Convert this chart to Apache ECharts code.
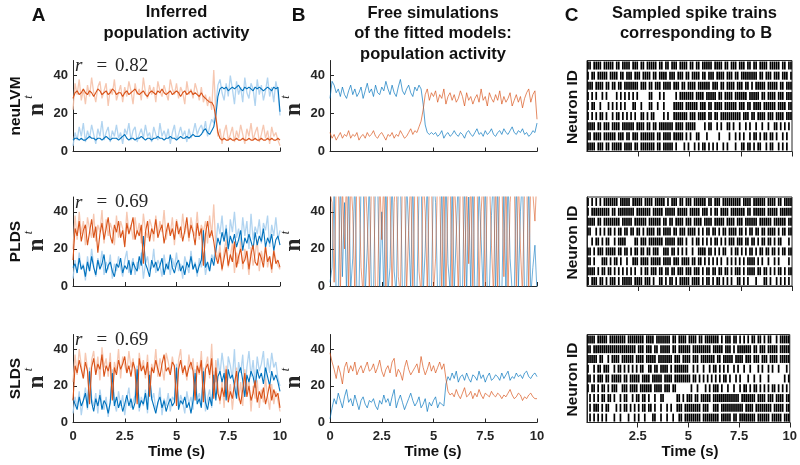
<!DOCTYPE html>
<html><head><meta charset="utf-8">
<script src="https://cdn.jsdelivr.net/npm/echarts@6/dist/echarts.min.js"></script>
<style>html,body{margin:0;padding:0;background:#fff}#c{width:800px;height:465px}</style>
</head><body><div id="c"></div><script>
// ---------- DATA ----------
const time = [0,0.1,0.2,0.3,0.4,0.5,0.6,0.7,0.8,0.9,1,1.1,1.2,1.3,1.4,1.5,1.6,1.7,1.8,1.9,2,2.1,2.2,2.3,2.4,2.5,2.6,2.7,2.8,2.9,3,3.1,3.2,3.3,3.4,3.5,3.6,3.7,3.8,3.9,4,4.1,4.2,4.3,4.4,4.5,4.6,4.7,4.8,4.9,5,5.1,5.2,5.3,5.4,5.5,5.6,5.7,5.8,5.9,6,6.1,6.2,6.3,6.4,6.5,6.6,6.7,6.8,6.9,7,7.1,7.2,7.3,7.4,7.5,7.6,7.7,7.8,7.9,8,8.1,8.2,8.3,8.4,8.5,8.6,8.7,8.8,8.9,9,9.1,9.2,9.3,9.4,9.5,9.6,9.7,9.8,9.9,10];
const xTicks = [0,2.5,5,7.5,10];
const rasterTicks = [2.5,5,7.5,10];
const yTicks = [0,20,40];
const rowNames = ['neuLVM','PLDS','SLDS'];
const rValues = ['0.82','0.69','0.69'];

// Column A: inferred activity (dark = estimate, light = reference)
const neuOrange = [28,31,32,30,31,33,31,30,32,31, 29,31,33,32,30,31,32,30,31,33, 32,30,31,31,29,31,32,30,31,32, 33,31,30,31,32,30,29,31,32,31, 30,32,31,33,31,30,31,32,30,31, 32,31,29,31,32,30,31,32,30,31, 30,29,31,29,28,27,26,26,24,18, 10,7,6,7,6,6,7,6,6,7, 6,6,7,6,6,7,6,6,7,6, 6,7,6,6,7,6,7,6,6,7, 6];
const neuBlue = [6,7,7,6,7,6,6,7,8,7, 7,6,7,7,6,7,8,7,6,7, 7,7,6,7,8,9,7,6,7,7, 6,7,7,8,7,6,7,7,6,7, 7,8,7,7,6,7,7,8,7,7, 6,7,8,7,7,8,7,8,9,8, 8,8,9,11,12,10,9,11,13,19, 29,33,34,33,34,32,33,34,33,34, 35,33,32,34,33,34,33,32,34,33, 34,33,32,33,34,33,32,34,33,34, 21];
const neuOrangeRef = [22,36,30,38,27,33,25,35,29,39, 31,26,34,37,28,32,36,24,33,30, 38,27,31,35,26,34,29,37,32,25, 36,30,33,27,39,31,28,35,30,34, 26,37,32,29,35,31,27,38,33,30, 36,28,34,31,25,37,30,33,28,36, 32,27,34,26,30,24,29,22,43,20, 8,12,4,10,14,6,9,13,5,11, 7,14,9,4,12,8,15,6,10,13, 5,9,14,7,11,4,13,8,10,6, 3];
const neuBlueRef = [3,10,6,13,8,15,5,11,7,14, 9,4,12,8,16,6,10,13,5,11, 8,14,7,10,4,12,9,15,6,11, 13,5,9,12,7,14,8,10,5,13, 9,6,15,8,11,7,12,4,10,14, 6,9,13,8,11,5,12,7,10,15, 9,12,14,10,16,8,13,17,15,24, 35,38,31,27,36,29,40,33,25,37, 30,34,26,39,31,28,36,33,24,38, 30,35,27,32,39,29,34,26,37,31, 19];

const pldsOrange = [14,31,27,35,24,30,33,22,29,36, 26,32,18,28,34,25,31,37,27,23, 33,29,35,26,30,21,34,28,32,37, 25,30,27,33,12,29,35,24,31,28, 36,26,30,33,23,29,34,27,31,25, 35,28,32,24,30,37,26,33,29,22, 34,27,31,11,28,35,26,30,24,16, 12,18,9,15,21,11,17,13,24,10, 16,20,12,14,19,9,17,22,13,11, 18,15,10,21,13,16,9,19,12,14, 10];
const pldsBlue = [10,12,7,15,9,11,5,13,8,16, 10,6,14,9,12,17,7,11,13,8, 5,12,10,15,7,11,9,14,6,13, 10,8,16,11,27,12,9,5,14,10, 13,8,11,15,6,12,9,17,10,7, 12,14,8,11,6,13,10,16,9,12, 7,11,14,30,10,13,8,15,11,19, 26,22,29,24,31,20,27,23,28,21, 25,30,19,26,23,28,24,20,29,22, 27,24,31,21,26,23,28,19,25,27, 22];
const pldsOrangeRef = [20,38,25,40,28,35,22,37,31,26, 39,24,33,29,41,23,36,27,34,30, 22,38,26,35,31,24,40,29,33,25, 37,28,34,23,39,30,26,36,32,24, 38,27,35,29,41,25,33,28,37,22, 36,31,26,39,28,34,24,37,30,27, 40,25,33,29,35,23,38,27,44,21, 14,22,8,19,25,10,16,23,7,18, 12,24,9,20,15,6,21,11,17,25, 8,19,13,22,10,16,7,20,14,11, 9];
const pldsBlueRef = [4,14,7,18,9,12,3,16,8,20, 11,5,15,10,19,6,13,9,17,4, 12,8,16,10,5,14,19,7,11,15, 6,13,9,18,4,12,16,8,10,20, 7,14,11,5,17,9,13,6,15,10, 18,8,12,4,16,11,7,19,9,13, 5,15,10,18,6,12,8,17,14,22, 34,28,38,24,33,19,36,29,40,26, 31,22,37,27,35,20,39,25,32,28, 36,23,34,30,38,21,33,27,37,25, 30];

const sldsOrange = [12,31,27,34,29,24,33,28,10,30, 35,26,32,29,37,25,31,28,33,12, 30,26,34,29,32,36,27,31,25,33, 29,10,35,28,31,26,33,14,30,27, 34,29,25,32,37,28,30,26,33,31, 9,29,34,27,31,25,30,33,28,12, 31,27,34,11,29,32,26,35,13,30, 16,12,19,14,29,11,17,13,21,28, 15,10,18,27,14,20,12,16,23,11, 17,13,19,10,15,21,12,18,14,16, 8];
const sldsBlue = [13,10,7,14,9,12,16,8,28,11, 6,13,9,15,7,12,10,5,11,27, 9,14,8,12,6,10,15,9,13,7, 11,29,8,12,10,16,7,26,13,9, 5,11,14,8,12,6,10,13,9,11, 30,7,12,10,14,8,11,5,12,27, 10,13,8,28,11,7,14,9,26,12, 25,28,22,27,12,29,24,26,20,13, 27,30,23,14,26,22,28,25,19,29, 24,27,21,30,25,20,28,23,26,22, 17];
const sldsOrangeRef = [22,37,26,40,31,24,38,29,14,34, 39,27,36,23,41,30,35,25,38,16, 33,28,40,24,36,31,27,39,30,35, 26,15,38,29,34,24,37,18,32,28, 40,25,35,30,23,38,33,27,36,29, 14,34,40,26,31,23,37,29,35,17, 33,26,39,15,30,36,24,43,18,34, 20,10,23,8,31,14,21,7,19,30, 12,22,9,29,17,24,6,20,13,23, 8,18,11,24,14,7,21,10,17,12, 6];
const sldsBlueRef = [5,14,8,17,4,12,19,7,30,13, 9,16,5,18,10,7,14,3,12,29, 11,6,17,9,15,4,13,19,8,11, 15,31,6,14,9,18,5,28,12,16, 7,10,19,4,13,9,16,6,14,12, 32,8,15,11,5,17,10,14,7,29, 12,16,9,30,6,13,18,8,28,22, 35,26,38,29,14,36,31,24,40,15, 33,27,37,16,30,39,25,34,21,36, 28,32,39,23,35,27,38,30,33,24, 20];

// Column B: free simulations
const simNeuBlue = [28,37,35,31,33,29,34,30,28,32, 35,30,33,29,31,34,28,32,36,31, 33,29,35,31,30,34,32,37,33,30, 35,31,29,34,38,32,30,33,35,31, 29,34,32,35,33,25,14,10,9,10, 9,10,8,9,11,7,9,10,8,9, 11,9,8,10,9,7,10,11,9,8, 10,12,9,10,8,11,9,10,12,9, 8,10,11,9,12,10,9,11,13,10, 9,11,10,12,9,10,8,9,11,10, 15];
const simNeuOrange = [10,7,9,6,8,10,7,9,8,11, 7,9,8,10,6,8,9,7,10,8, 9,11,8,7,9,10,8,6,9,8, 10,7,9,8,11,9,7,8,10,12, 9,11,10,13,16,22,30,33,27,31, 29,32,26,30,28,33,25,29,31,27, 30,26,28,32,29,24,31,27,29,25, 28,30,26,33,27,29,24,31,28,26, 30,27,32,25,29,26,28,31,24,27, 30,26,29,23,28,31,33,26,30,32, 17];
const simPldsOrange = [50,45,2,55,60,-5,55,20,60,-3, 58,40,-5,60,55,10,-5,60,35,-2, 55,60,-5,-5,60,25,58,-4,60,50, -5,45,60,5,-5,60,58,-3,30,60, -5,55,60,8,-5,60,40,-2,58,60, -5,15,60,55,-5,60,-4,48,60,-5, 60,33,-5,58,60,-2,55,12,60,-5, 60,58,-3,40,60,-5,55,60,22,-5, 60,-4,58,60,5,60,-5,45,60,58, -3,60,20,-5,55,60,-2,60,50,35, 60];
const simPldsBlue = [2,10,50,-5,-3,60,5,45,-5,58, -2,15,60,-5,-4,55,60,-5,20,58, -3,-5,60,58,-2,40,-5,60,-3,10, 60,8,-5,55,60,-4,-5,58,30,-2, 60,-5,-3,50,60,-5,20,58,-4,-2, 60,45,-5,-3,58,-5,60,12,-2,55, -4,28,60,-5,-3,58,-5,48,-2,60, -5,-3,55,25,-4,60,-5,-2,38,60, -5,58,-3,-4,50,-5,60,15,-3,-5, 58,-2,40,60,-5,-3,58,-5,10,22, -4];
const simSldsOrange = [38,33,29,24,31,27,21,30,33,27, 31,28,33,26,29,31,27,30,33,28, 29,32,27,30,34,28,25,29,31,27, 33,35,25,29,27,23,30,34,29,26, 28,30,32,27,36,30,26,29,33,28, 31,27,30,33,29,32,24,17,15,16, 14,18,15,13,16,19,14,15,17,13, 16,14,18,15,13,16,15,14,17,15, 14,16,15,13,15,14,16,18,15,13, 14,16,15,12,14,13,15,16,14,13, 13];
const simSldsBlue = [2,8,13,10,16,12,8,14,18,11, 13,9,15,11,7,12,14,10,8,12, 11,13,9,7,12,10,15,11,13,9, 14,18,8,12,15,11,7,10,13,16, 12,9,11,14,8,10,13,6,11,9, 12,14,8,11,10,9,21,25,23,27, 24,28,22,25,26,23,27,24,22,26, 25,23,28,24,26,22,25,27,23,24, 26,25,23,27,24,26,28,23,25,24, 27,25,26,24,27,28,25,24,26,27, 25];

// Column C: binned spike trains (0.1 s bins, 1 = spike), neuron 1..9 from top
const spikesNeu = [
"1101111011 1110110111 1011101101 1111011011 0111011110 1101101111 1011110110 1110111011 0110111101 1111011011",
"1011011111 0111101101 1101110111 1011011110 1110111011 0111101101 1101111011 1011011111 1110110111 0111011101",
"1110111101 1011011011 1111101110 1101110111 1011101101 1110111111 0111011011 1101110110 1011111011 1110110111",
"1010100101 0000101010 1010100000 1100010100 0001011111 1101111011 1110110111 1011111101 1111011011 1101110111",
"1011001000 1010101010 0011001000 1100100100 0011111011 1111011101 1011110111 1110111011 0111101111 1101111011",
"1010101101 0010110101 0101001101 0110000101 0011111110 1110111101 1011011111 1111101110 1101111011 1011110111",
"1111011011 1011110111 1110111101 1011011111 1101111011 1110000101 1001010011 0100100101 0010010010 0110101010",
"1101111011 1111011101 1011101111 1110110111 1011111010 1001100010 0000100001 0010101001 0110101101 1010010100",
"1111011101 1011111011 1101101111 1110110111 1101000101 0010101101 0101001010 0010011011 0101100101 1001010100"];
const spikesPlds = [
"1010101011 1111101111 1011111011 1101111101 0111011011 1011111101 1011101111 1111101111 0111111011 1101101111",
"1011111111 1011011111 1110111111 1011111011 1110111110 1111101110 1011011110 1111111011 0111111011 1110111111",
"1111011011 1111110111 1101111110 1111110110 1101111011 1011110111 1011111011 1101110111 1110111111 0111111011",
"1100101010 1101011011 0110110101 1110110111 1011011101 1110101011 0110101101 1110110101 1011011011 1101011011",
"0010110101 1001011110 0001101110 1111111011 1110111010 0101101010 1011010101 1101110110 1101011011 0101100010",
"1101011101 1111011011 0101101101 1011100111 0110101010 0100111101 1010101100 1011010101 1010110110 1101011011",
"1101000111 0101101001 0011101111 0111110111 1011101111 0110110101 0101010010 1010101011 1101010010 0101000010",
"1111010110 1101010101 0101001011 0111011011 0110111011 1011101011 0110110110 1011101011 1101101101 0101101011",
"1011101101 0111010111 1101111011 1010011010 1101011111 0111101011 0101101010 1001101010 0010001101 0010101010"];
const spikesSlds = [
"1111011111 0111111110 1111111101 1110111111 1011011110 1111011011 1111101011 1011010101 0110110101 1001011111",
"1101111111 1111111111 1111011101 1101101111 1011011111 1011111111 1011111011 1010111111 1011011101 1111011111",
"1111101100 1011110111 1110111101 1111011111 1101110111 1011101111 1110110111 1101111011 1011101110 1111011111",
"1001011011 1001011010 1010101100 1101101111 0101111111 0010100100 1011010101 0010100100 1000101001 0100100010",
"1101011101 1011111011 0111110111 1011111011 1101111111 1011010101 0101010110 1001010001 0010010001 0000000101",
"1011010110 1011100111 0111101111 1101111011 1011000000 0100100010 1011101001 0010010110 1011010101 0110101010",
"0101010110 1101001011 0010110110 1001001100 0000110101 1101101111 1011111111 1111101111 1110111101 1101111011",
"0101110101 1000101011 0101010110 1101001001 0100111011 1111110111 0011101111 1111111011 1101111111 1011111011",
"0101010101 0001001000 1001010010 0011001001 0010011011 1111110111 1111101111 1011011111 1110111111 0111110111"];

// ---------- LAYOUT / STYLE ----------
const SANS = '"Liberation Sans", Arial, Helvetica, sans-serif';
const SERIF = '"Liberation Serif", "Times New Roman", serif';
const INK = '#262626';
const ORANGE = '#D95319', BLUE = '#0072BD';
const ORANGE_L = '#F5C1A8', BLUE_L = '#A8CFEE';
const colLeft = [73, 330, 587], colWidth = [207, 207, 205];
const rowTop = [60.5, 197, 334.5], rowHeight = [91, 89, 88];

const grids = [], xAxes = [], yAxes = [], series = [];
for (let c = 0; c < 3; c++) for (let r = 0; r < 3; r++) {
  const gi = c * 3 + r;
  const isRaster = c === 2;
  grids.push({left: colLeft[c], top: rowTop[r], width: colWidth[c], height: rowHeight[r], containLabel: false,
    show: isRaster, borderColor: INK, borderWidth: 1, backgroundColor: 'transparent'});
  const tv = isRaster ? rasterTicks : xTicks;
  xAxes.push({gridIndex: gi, type: 'value', min: 0, max: 10, interval: 2.5,
    axisLine: {show: true, onZero: false, lineStyle: {color: INK, width: 1}},
    axisTick: {show: true, inside: !isRaster, length: isRaster ? 5 : 4, lineStyle: {color: INK, width: 1}, customValues: tv},
    axisLabel: {show: r === 2, customValues: tv, margin: 7, color: INK, fontFamily: SANS, fontWeight: 'bold', fontSize: 13},
    splitLine: {show: false}});
  if (isRaster) {
    yAxes.push({gridIndex: gi, type: 'value', min: 0.5, max: 9.5, inverse: true,
      axisLine: {show: true, onZero: false, lineStyle: {color: INK, width: 1}}, axisTick: {show: false}, axisLabel: {show: false}, splitLine: {show: false}});
  } else {
    yAxes.push({gridIndex: gi, type: 'value', min: 0, max: 48, interval: 20,
      axisLine: {show: true, onZero: false, lineStyle: {color: INK, width: 1}},
      axisTick: {show: true, inside: true, length: 4, lineStyle: {color: INK, width: 1}, customValues: yTicks},
      axisLabel: {show: true, customValues: yTicks, margin: 5, color: INK, fontFamily: SANS, fontWeight: 'bold', fontSize: 13},
      splitLine: {show: false}});
  }
}

function line(gi, vals, color, width, opacity, z) {
  series.push({type: 'line', xAxisIndex: gi, yAxisIndex: gi, data: time.map((t, i) => [t, vals[i]]),
    showSymbol: false, symbol: 'none', silent: true, clip: true, z: z,
    lineStyle: {color: color, width: width, opacity: opacity}});
}
const inferred = [
  [neuBlueRef, neuOrangeRef, neuBlue, neuOrange],
  [pldsBlueRef, pldsOrangeRef, pldsBlue, pldsOrange],
  [sldsBlueRef, sldsOrangeRef, sldsBlue, sldsOrange]];
inferred.forEach((s, r) => {
  line(r, s[0], BLUE_L, 1.3, 0.9, 1);
  line(r, s[1], ORANGE_L, 1.3, 0.9, 2);
  line(r, s[2], BLUE, 1.1, 1, 3);
  line(r, s[3], ORANGE, 1.1, 1, 4);
});
const sims = [[simNeuBlue, simNeuOrange], [simPldsBlue, simPldsOrange], [simSldsBlue, simSldsOrange]];
sims.forEach((s, r) => {
  line(3 + r, s[0], BLUE, 0.8, r === 1 ? 0.7 : 0.85, 1);
  line(3 + r, s[1], ORANGE, 0.8, r === 1 ? 0.7 : 0.85, 2);
});
function spikePoints(rows) {
  const pts = [];
  rows.forEach((s, n) => {
    const b = s.replace(/ /g, '');
    for (let k = 0; k < b.length; k++) if (b[k] === '1') pts.push([k / 10 + 0.05, n + 1]);
  });
  return pts;
}
[spikesNeu, spikesPlds, spikesSlds].forEach((rows, r) => {
  series.push({type: 'scatter', xAxisIndex: 6 + r, yAxisIndex: 6 + r, data: spikePoints(rows),
    symbol: 'rect', symbolSize: [1.7, 8], silent: true, itemStyle: {color: '#000', opacity: 1}});
});

// ---------- TEXT ----------
const graphics = [];
function txt(x, y, text, font, opts) {
  opts = opts || {};
  const align = opts.align || 'center';
  graphics.push({type: 'text', x: x, y: y, rotation: opts.rot || 0, silent: true, z: 100,
    style: {text: text, font: font, fill: opts.fill || '#111', align: align, textAlign: align,
      verticalAlign: 'middle', textVerticalAlign: 'middle'}});
}
const TITLE = 'bold 16.5px ' + SANS;
txt(38.5, 16, 'A', 'bold 19px ' + SANS);
txt(298.5, 16, 'B', 'bold 19px ' + SANS);
txt(571.5, 16, 'C', 'bold 19px ' + SANS);
txt(176.5, 12.5, 'Inferred', TITLE);
txt(176.5, 33, 'population activity', TITLE);
txt(433, 13, 'Free simulations', TITLE);
txt(433, 33.5, 'of the fitted models:', TITLE);
txt(433, 54, 'population activity', TITLE);
txt(694.5, 13, 'Sampled spike trains', TITLE);
txt(696, 33.5, 'corresponding to B', TITLE);
for (let r = 0; r < 3; r++) {
  const cy = rowTop[r] + rowHeight[r] / 2;
  txt(16, cy, rowNames[r], 'bold 15.5px ' + SANS, {rot: Math.PI / 2});
  txt(572.5, cy + 1, 'Neuron ID', 'bold 15.5px ' + SANS, {rot: Math.PI / 2});
  for (let c = 0; c < 2; c++) {
    const dx = c === 0 ? 0 : 257;
    txt(37.5 + dx, cy + 3.5, 'n', 'bold 23px ' + SERIF, {rot: Math.PI / 2, fill: INK});
    txt(29 + dx, cy - 9, 't', 'italic 12px ' + SERIF, {rot: Math.PI / 2, fill: INK});
  }
  const ry = rowTop[r] + 5.5;
  txt(75, ry, 'r', 'italic 19px ' + SERIF, {align: 'left', fill: INK});
  txt(96.5, ry, '=', '19px ' + SERIF, {align: 'left', fill: INK});
  txt(115, ry, rValues[r], '19px ' + SERIF, {align: 'left', fill: INK});
}
txt(176.5, 452, 'Time (s)', 'bold 15px ' + SANS);
txt(433, 452, 'Time (s)', 'bold 15px ' + SANS);
txt(690, 452, 'Time (s)', 'bold 15px ' + SANS);

const chart = echarts.init(document.getElementById('c'), null, {renderer: 'canvas', width: 800, height: 465});
chart.setOption({animation: false, backgroundColor: '#fff', grid: grids, xAxis: xAxes, yAxis: yAxes, series: series, graphic: graphics});
</script></body></html>
